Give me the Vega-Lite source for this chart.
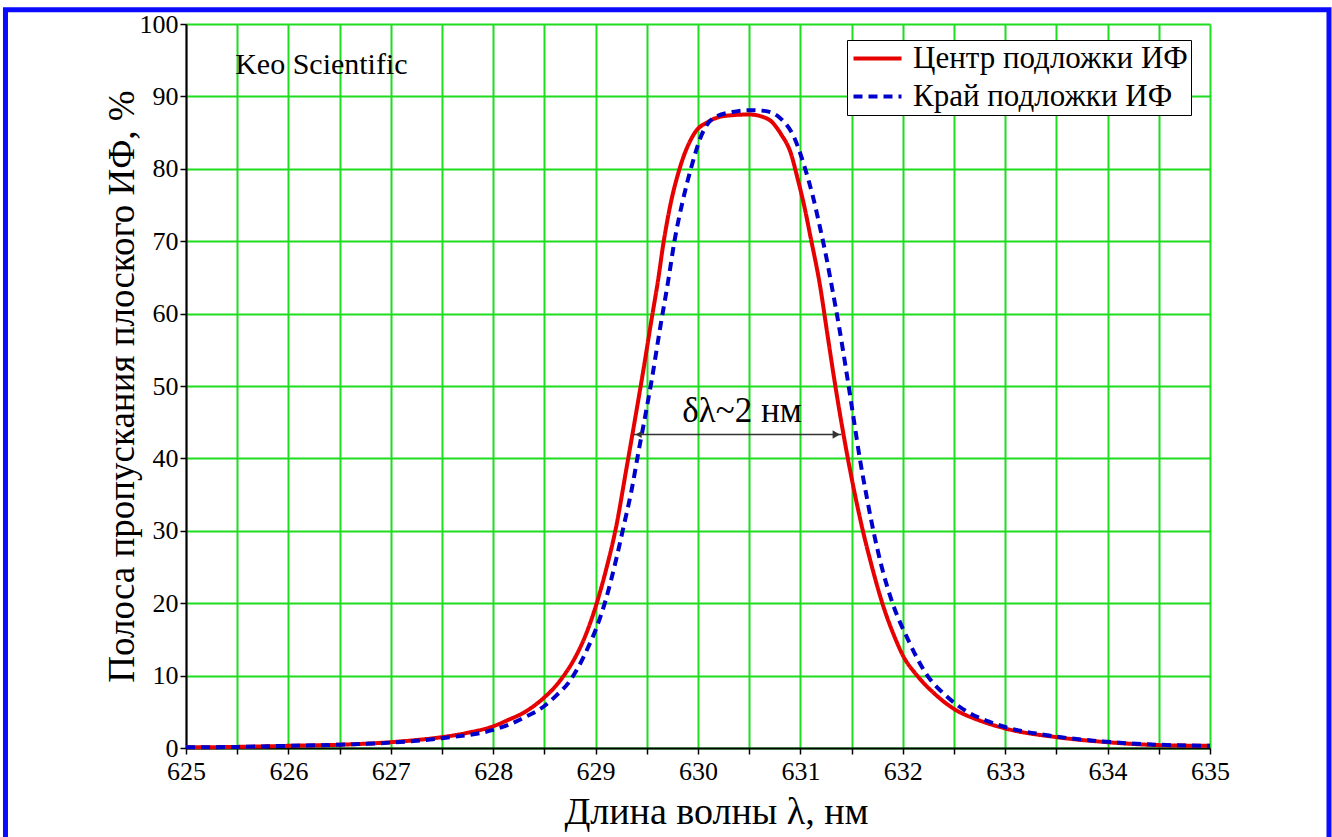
{
  "$schema": "https://vega.github.io/schema/vega-lite/v6.json",
  "width": 1024,
  "height": 724,
  "autosize": {"type": "none"},
  "padding": {"left": 186, "top": 24, "right": 122, "bottom": 89},
  "background": "white",
  "config": {
    "view": {"stroke": null},
    "font": "Liberation Serif, Times New Roman, serif",
    "text": {"font": "Liberation Serif, Times New Roman, serif"},
    "axis": {"labelFont": "Liberation Serif, Times New Roman, serif", "titleFont": "Liberation Serif, Times New Roman, serif"},
    "legend": {"labelFont": "Liberation Serif, Times New Roman, serif", "titleFont": "Liberation Serif, Times New Roman, serif"}
  },
  "datasets": {
    "curves": [
      {"l": 625.0, "t": 0.1, "s": "Центр подложки ИФ"},
      {"l": 625.5, "t": 0.15, "s": "Центр подложки ИФ"},
      {"l": 626.0, "t": 0.3, "s": "Центр подложки ИФ"},
      {"l": 626.5, "t": 0.45, "s": "Центр подложки ИФ"},
      {"l": 627.0, "t": 0.8, "s": "Центр подложки ИФ"},
      {"l": 627.25, "t": 1.1, "s": "Центр подложки ИФ"},
      {"l": 627.5, "t": 1.5, "s": "Центр подложки ИФ"},
      {"l": 627.75, "t": 2.1, "s": "Центр подложки ИФ"},
      {"l": 628.0, "t": 3.0, "s": "Центр подложки ИФ"},
      {"l": 628.15, "t": 3.9, "s": "Центр подложки ИФ"},
      {"l": 628.3, "t": 4.9, "s": "Центр подложки ИФ"},
      {"l": 628.5, "t": 7.0, "s": "Центр подложки ИФ"},
      {"l": 628.6, "t": 8.4, "s": "Центр подложки ИФ"},
      {"l": 628.7, "t": 10.2, "s": "Центр подложки ИФ"},
      {"l": 628.8, "t": 12.5, "s": "Центр подложки ИФ"},
      {"l": 628.9, "t": 15.5, "s": "Центр подложки ИФ"},
      {"l": 629.0, "t": 19.5, "s": "Центр подложки ИФ"},
      {"l": 629.1, "t": 24.5, "s": "Центр подложки ИФ"},
      {"l": 629.2, "t": 30.5, "s": "Центр подложки ИФ"},
      {"l": 629.3, "t": 38.5, "s": "Центр подложки ИФ"},
      {"l": 629.38, "t": 45.0, "s": "Центр подложки ИФ"},
      {"l": 629.47, "t": 52.5, "s": "Центр подложки ИФ"},
      {"l": 629.55, "t": 59.5, "s": "Центр подложки ИФ"},
      {"l": 629.61, "t": 64.6, "s": "Центр подложки ИФ"},
      {"l": 629.66, "t": 69.5, "s": "Центр подложки ИФ"},
      {"l": 629.73, "t": 75.0, "s": "Центр подложки ИФ"},
      {"l": 629.82, "t": 80.0, "s": "Центр подложки ИФ"},
      {"l": 629.97, "t": 85.0, "s": "Центр подложки ИФ"},
      {"l": 630.1, "t": 86.5, "s": "Центр подложки ИФ"},
      {"l": 630.26, "t": 87.3, "s": "Центр подложки ИФ"},
      {"l": 630.5, "t": 87.5, "s": "Центр подложки ИФ"},
      {"l": 630.68, "t": 86.9, "s": "Центр подложки ИФ"},
      {"l": 630.81, "t": 84.8, "s": "Центр подложки ИФ"},
      {"l": 630.91, "t": 82.0, "s": "Центр подложки ИФ"},
      {"l": 630.97, "t": 78.8, "s": "Центр подложки ИФ"},
      {"l": 631.04, "t": 74.7, "s": "Центр подложки ИФ"},
      {"l": 631.1, "t": 70.5, "s": "Центр подложки ИФ"},
      {"l": 631.19, "t": 64.0, "s": "Центр подложки ИФ"},
      {"l": 631.26, "t": 57.5, "s": "Центр подложки ИФ"},
      {"l": 631.33, "t": 51.0, "s": "Центр подложки ИФ"},
      {"l": 631.4, "t": 45.0, "s": "Центр подложки ИФ"},
      {"l": 631.47, "t": 39.5, "s": "Центр подложки ИФ"},
      {"l": 631.54, "t": 34.5, "s": "Центр подложки ИФ"},
      {"l": 631.61, "t": 30.0, "s": "Центр подложки ИФ"},
      {"l": 631.69, "t": 25.5, "s": "Центр подложки ИФ"},
      {"l": 631.8, "t": 20.0, "s": "Центр подложки ИФ"},
      {"l": 631.93, "t": 15.0, "s": "Центр подложки ИФ"},
      {"l": 632.0, "t": 12.8, "s": "Центр подложки ИФ"},
      {"l": 632.14, "t": 10.0, "s": "Центр подложки ИФ"},
      {"l": 632.31, "t": 7.5, "s": "Центр подложки ИФ"},
      {"l": 632.5, "t": 5.4, "s": "Центр подложки ИФ"},
      {"l": 632.75, "t": 3.8, "s": "Центр подложки ИФ"},
      {"l": 633.0, "t": 2.7, "s": "Центр подложки ИФ"},
      {"l": 633.5, "t": 1.5, "s": "Центр подложки ИФ"},
      {"l": 634.0, "t": 0.8, "s": "Центр подложки ИФ"},
      {"l": 634.5, "t": 0.4, "s": "Центр подложки ИФ"},
      {"l": 635.0, "t": 0.3, "s": "Центр подложки ИФ"},
      {"l": 625.0, "t": 0.1, "s": "Край подложки ИФ"},
      {"l": 625.5, "t": 0.15, "s": "Край подложки ИФ"},
      {"l": 626.0, "t": 0.3, "s": "Край подложки ИФ"},
      {"l": 626.5, "t": 0.45, "s": "Край подложки ИФ"},
      {"l": 627.0, "t": 0.75, "s": "Край подложки ИФ"},
      {"l": 627.5, "t": 1.35, "s": "Край подложки ИФ"},
      {"l": 628.0, "t": 2.5, "s": "Край подложки ИФ"},
      {"l": 628.15, "t": 3.2, "s": "Край подложки ИФ"},
      {"l": 628.3, "t": 4.2, "s": "Край подложки ИФ"},
      {"l": 628.5, "t": 5.8, "s": "Край подложки ИФ"},
      {"l": 628.62, "t": 7.3, "s": "Край подложки ИФ"},
      {"l": 628.74, "t": 9.1, "s": "Край подложки ИФ"},
      {"l": 628.84, "t": 11.4, "s": "Край подложки ИФ"},
      {"l": 628.93, "t": 14.0, "s": "Край подложки ИФ"},
      {"l": 629.0, "t": 16.3, "s": "Край подложки ИФ"},
      {"l": 629.1, "t": 20.5, "s": "Край подложки ИФ"},
      {"l": 629.2, "t": 26.0, "s": "Край подложки ИФ"},
      {"l": 629.28, "t": 31.0, "s": "Край подложки ИФ"},
      {"l": 629.35, "t": 35.5, "s": "Край подложки ИФ"},
      {"l": 629.42, "t": 41.0, "s": "Край подложки ИФ"},
      {"l": 629.48, "t": 45.5, "s": "Край подложки ИФ"},
      {"l": 629.55, "t": 51.0, "s": "Край подложки ИФ"},
      {"l": 629.63, "t": 58.0, "s": "Край подложки ИФ"},
      {"l": 629.71, "t": 64.6, "s": "Край подложки ИФ"},
      {"l": 629.77, "t": 70.0, "s": "Край подложки ИФ"},
      {"l": 629.85, "t": 75.5, "s": "Край подложки ИФ"},
      {"l": 629.94, "t": 80.5, "s": "Край подложки ИФ"},
      {"l": 630.03, "t": 84.5, "s": "Край подложки ИФ"},
      {"l": 630.16, "t": 87.1, "s": "Край подложки ИФ"},
      {"l": 630.36, "t": 87.9, "s": "Край подложки ИФ"},
      {"l": 630.5, "t": 88.1, "s": "Край подложки ИФ"},
      {"l": 630.65, "t": 88.0, "s": "Край подложки ИФ"},
      {"l": 630.81, "t": 86.9, "s": "Край подложки ИФ"},
      {"l": 630.94, "t": 84.3, "s": "Край подложки ИФ"},
      {"l": 631.04, "t": 80.3, "s": "Край подложки ИФ"},
      {"l": 631.12, "t": 76.3, "s": "Край подложки ИФ"},
      {"l": 631.19, "t": 72.0, "s": "Край подложки ИФ"},
      {"l": 631.25, "t": 68.0, "s": "Край подложки ИФ"},
      {"l": 631.31, "t": 63.5, "s": "Край подложки ИФ"},
      {"l": 631.38, "t": 58.0, "s": "Край подложки ИФ"},
      {"l": 631.46, "t": 51.0, "s": "Край подложки ИФ"},
      {"l": 631.52, "t": 45.5, "s": "Край подложки ИФ"},
      {"l": 631.58, "t": 40.0, "s": "Край подложки ИФ"},
      {"l": 631.65, "t": 34.5, "s": "Край подложки ИФ"},
      {"l": 631.72, "t": 29.5, "s": "Край подложки ИФ"},
      {"l": 631.8, "t": 24.7, "s": "Край подложки ИФ"},
      {"l": 631.9, "t": 20.0, "s": "Край подложки ИФ"},
      {"l": 632.05, "t": 15.0, "s": "Край подложки ИФ"},
      {"l": 632.24, "t": 10.0, "s": "Край подложки ИФ"},
      {"l": 632.4, "t": 7.5, "s": "Край подложки ИФ"},
      {"l": 632.63, "t": 5.0, "s": "Край подложки ИФ"},
      {"l": 632.83, "t": 3.7, "s": "Край подложки ИФ"},
      {"l": 633.0, "t": 2.9, "s": "Край подложки ИФ"},
      {"l": 633.44, "t": 1.7, "s": "Край подложки ИФ"},
      {"l": 634.0, "t": 0.85, "s": "Край подложки ИФ"},
      {"l": 634.5, "t": 0.45, "s": "Край подложки ИФ"},
      {"l": 635.0, "t": 0.3, "s": "Край подложки ИФ"}
    ]
  },
  "layer": [
    {
      "data": {"values": [{}]},
      "mark": {"type": "rect", "fillOpacity": 0, "stroke": "#0a0aff", "strokeWidth": 5, "clip": false},
      "encoding": {
        "x": {"datum": 623.237, "type": "quantitative"},
        "x2": {"datum": 636.162},
        "y": {"datum": 101.96, "type": "quantitative"},
        "y2": {"datum": -14}
      }
    },
    {
      "data": {"name": "curves"},
      "transform": [{"filter": "datum.s === 'Центр подложки ИФ'"}],
      "mark": {"type": "line", "strokeWidth": 4, "strokeCap": "butt", "interpolate": "monotone"},
      "encoding": {
        "x": {
          "field": "l", "type": "quantitative",
          "scale": {"domain": [625, 635], "nice": false, "zero": false},
          "axis": {
            "title": "Длина волны λ, нм",
            "values": [625, 625.5, 626, 626.5, 627, 627.5, 628, 628.5, 629, 629.5, 630, 630.5, 631, 631.5, 632, 632.5, 633, 633.5, 634, 634.5, 635],
            "labelExpr": "datum.value % 1 == 0 ? format(datum.value, 'd') : ''",
            "labelFlush": false,
            "labelOverlap": false,
            "labelFontSize": 26,
            "labelColor": "black",
            "labelPadding": 4,
            "grid": true,
            "gridColor": "#1edc1e",
            "gridWidth": 2,
            "gridOpacity": 1,
            "domainColor": "black",
            "domainWidth": 2,
            "tickColor": "black",
            "tickWidth": 1.5,
            "tickSize": 6,
            "titleFontSize": 38,
            "titleFontWeight": "normal",
            "titleColor": "black",
            "titlePadding": 9,
            "titleX": 530
          }
        },
        "y": {
          "field": "t", "type": "quantitative",
          "scale": {"domain": [0, 100], "nice": false},
          "axis": {
            "title": "Полоса пропускания плоского ИФ, %",
            "values": [0, 5, 10, 15, 20, 25, 30, 35, 40, 45, 50, 55, 60, 65, 70, 75, 80, 85, 90, 95, 100],
            "labelExpr": "datum.value % 10 == 0 ? format(datum.value, 'd') : ''",
            "labelFlush": false,
            "labelOverlap": false,
            "labelFontSize": 26,
            "labelColor": "black",
            "labelPadding": 2,
            "grid": true,
            "gridColor": "#1edc1e",
            "gridWidth": 2,
            "gridOpacity": 1,
            "domainColor": "black",
            "domainWidth": 2,
            "tickColor": "black",
            "tickWidth": 1.5,
            "tickSize": 6,
            "titleFontSize": 37,
            "titleFontWeight": "normal",
            "titleColor": "black",
            "titlePadding": -2
          }
        },
        "color": {
          "field": "s", "type": "nominal",
          "scale": {"domain": ["Центр подложки ИФ", "Край подложки ИФ"], "range": ["#e60000", "#0000cc"]},
          "legend": {
            "orient": "none", "legendX": 661, "legendY": 16,
            "title": null,
            "strokeColor": "black", "fillColor": "white",
            "padding": 3,
            "labelFontSize": 31, "labelColor": "black", "labelLimit": 500,
            "labelOffset": 32,
            "symbolType": "M-1,0H3", "symbolStrokeWidth": 4, "symbolSize": 576,
            "rowPadding": 6
          }
        },
        "strokeDash": {
          "field": "s", "type": "nominal",
          "scale": {"domain": ["Центр подложки ИФ", "Край подложки ИФ"], "range": [[1, 0], [9, 6]]},
          "legend": {
            "orient": "none", "legendX": 661, "legendY": 16,
            "title": null,
            "strokeColor": "black", "fillColor": "white",
            "padding": 3,
            "labelFontSize": 31, "labelColor": "black", "labelLimit": 500,
            "labelOffset": 32,
            "symbolType": "M-1,0H3", "symbolStrokeWidth": 4, "symbolSize": 576,
            "rowPadding": 6
          }
        }
      }
    },
    {
      "data": {"name": "curves"},
      "transform": [{"filter": "datum.s === 'Край подложки ИФ'"}],
      "mark": {"type": "line", "strokeWidth": 4, "strokeCap": "butt", "interpolate": "monotone"},
      "encoding": {
        "x": {"field": "l", "type": "quantitative"},
        "y": {"field": "t", "type": "quantitative"},
        "color": {"field": "s", "type": "nominal"},
        "strokeDash": {"field": "s", "type": "nominal"}
      }
    },
    {
      "data": {"values": [{}]},
      "mark": {"type": "rule", "color": "#333333", "strokeWidth": 1.5},
      "encoding": {
        "x": {"datum": 629.37, "type": "quantitative"},
        "x2": {"datum": 631.4},
        "y": {"datum": 43.3, "type": "quantitative"}
      }
    },
    {
      "data": {"values": [{}]},
      "mark": {"type": "point", "shape": "triangle-right", "filled": true, "color": "#333333", "size": 70, "opacity": 1},
      "encoding": {
        "x": {"datum": 631.35, "type": "quantitative"},
        "y": {"datum": 43.3, "type": "quantitative"}
      }
    },
    {
      "data": {"values": [{}]},
      "mark": {"type": "point", "shape": "triangle-left", "filled": true, "color": "#333333", "size": 50, "opacity": 1},
      "encoding": {
        "x": {"datum": 629.42, "type": "quantitative"},
        "y": {"datum": 43.3, "type": "quantitative"}
      }
    },
    {
      "data": {"values": [{}]},
      "mark": {"type": "text", "text": "Keo Scientific", "fontSize": 30, "align": "left", "baseline": "middle", "color": "black"},
      "encoding": {
        "x": {"datum": 625.48, "type": "quantitative"},
        "y": {"datum": 94.3, "type": "quantitative"}
      }
    },
    {
      "data": {"values": [{}]},
      "mark": {"type": "text", "text": "δλ~2 нм", "fontSize": 35, "align": "center", "baseline": "middle", "color": "black"},
      "encoding": {
        "x": {"datum": 630.43, "type": "quantitative"},
        "y": {"datum": 46.5, "type": "quantitative"}
      }
    }
  ]
}
